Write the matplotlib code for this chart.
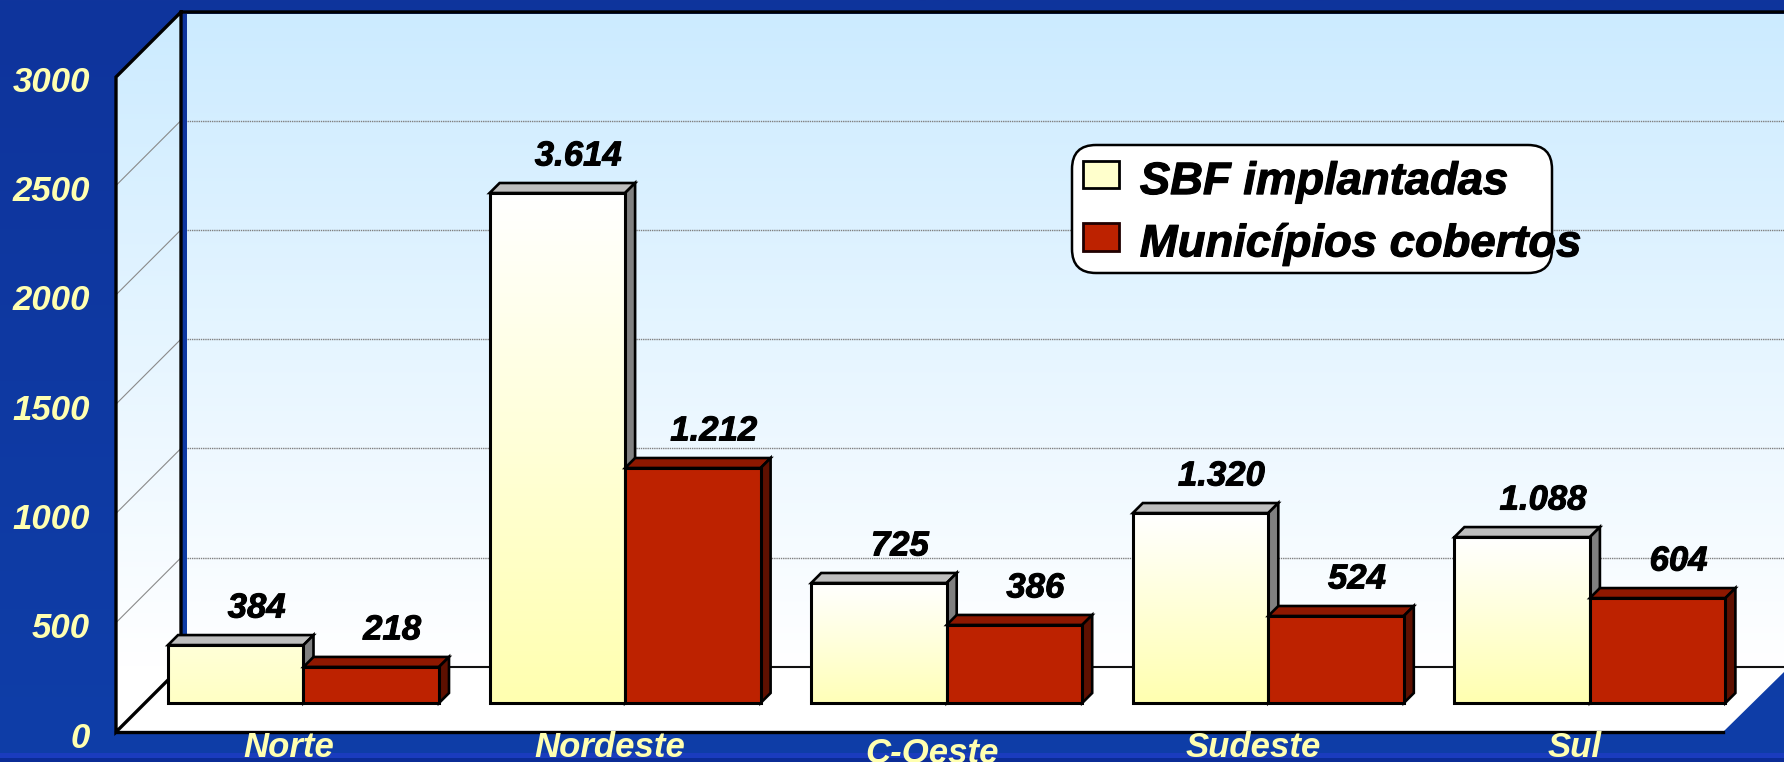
import numpy as np
import matplotlib
matplotlib.use('Agg')
import matplotlib.pyplot as plt
import matplotlib.patheffects as pe
from matplotlib.colors import LinearSegmentedColormap
from matplotlib.patches import FancyBboxPatch, Patch, Polygon
from matplotlib.transforms import IdentityTransform

plt.rcParams['font.family'] = ['Liberation Sans', 'DejaVu Sans']

# data
regioes = ['Norte', 'Nordeste', 'C-Oeste', 'Sudeste', 'Sul']
# bar heights (they do not follow the printed labels)
sbf = [265, 2333, 549, 869, 759]
municipios = [165, 1075, 357, 398, 480]
sbf_labels = ['384', '3.614', '725', '1.320', '1.088']
mun_labels = ['218', '1.212', '386', '524', '604']
yticks = [0, 500, 1000, 1500, 2000, 2500, 3000]
grid_vals = [500, 1000, 1500, 2000, 2500]
legend_names = ['SBF implantadas', 'Municípios cobertos']

# colours
YELLOW = '#FFFFB0'
RED, RED_TOP, RED_SIDE = '#BD2200', '#8E1800', '#5E1000'
GREY_TOP, GREY_SIDE = '#BEBEBE', '#808080'
SKY = '#CCEBFF'
NAVY = '#0F349C'

# scale of the picture
W, H = 1784, 762
UNIT = 109.3 / 500      # pixels per value
GROUP = 321.6           # pixels per category
X0 = 303.5              # pixel of category 0
BASE = 703              # pixel row of value 0 on the bars


def xd(px):
    return (px - X0) / GROUP


def yd(py):
    return (BASE - py) / UNIT


fig = plt.figure(figsize=(W / 100, H / 100), dpi=100)
ax = fig.add_axes([0, 0, 1, 1])
ax.set_xlim(xd(0), xd(W))
ax.set_ylim(yd(H), yd(0))
ax.axis('off')

full = [xd(0), xd(W), yd(H), yd(0)]

# background, with the lighter band near the bottom edge
bg = LinearSegmentedColormap.from_list('bg', [NAVY, '#0E3EA8'])
ax.imshow(np.linspace(0, 1, 256)[:, None], cmap=bg, extent=full, aspect='auto', zorder=0)
ax.fill_between([xd(0), xd(W)], yd(H), yd(753), color='#1A3CBE', lw=0, zorder=0.1)
ax.fill_between([xd(0), xd(W)], yd(H), yd(758), color='#0B2C96', lw=0, zorder=0.2)

# back wall and side wall
wall = LinearSegmentedColormap.from_list('wall', [SKY, '#FFFFFF'])
grad = np.linspace(0, 1, 256)[:, None]
ax.imshow(grad, cmap=wall, extent=[xd(187), xd(W), yd(667), yd(14)], aspect='auto', zorder=1)
side_grad = np.clip(np.linspace(0, (732 - 14) / (667 - 14), 256), 0, 1)[:, None]
side_im = ax.imshow(side_grad, cmap=wall, vmin=0, vmax=1, extent=[xd(116), xd(181), yd(732), yd(14)],
                    aspect='auto', zorder=1)
side = Polygon([(xd(116), yd(77)), (xd(181), yd(12)), (xd(181), yd(667)), (xd(116), yd(732))],
               closed=True, fc='none', ec='none', zorder=1)
ax.add_patch(side)
side_im.set_clip_path(side)

# floor
ax.add_patch(Polygon([(xd(116), yd(732)), (xd(181), yd(667)), (xd(W), yd(667)), (xd(W), yd(672)), (xd(1723), yd(732))],
                     closed=True, fc='white', ec='none', zorder=1.2))

# gridlines, back wall and side wall
back_off = (BASE - 667) / UNIT
front_off = (BASE - 732) / UNIT
for v in grid_vals:
    ax.plot([xd(187), xd(W)], [v + back_off] * 2, color='#808080', lw=1, ls=(0, (1, 0.6)), zorder=1.5)
    ax.plot([xd(116), xd(181)], [v + front_off, v + back_off], color='#8A8A8A', lw=0.8, zorder=1.5)

# frame
ax.plot([xd(W), xd(181), xd(116), xd(116), xd(181), xd(181)],
        [yd(12), yd(12), yd(77), yd(732), yd(667), yd(12)],
        color='black', lw=2.4, solid_joinstyle='miter', zorder=2)
ax.plot([xd(116), xd(1723)], [yd(732), yd(732)], color='black', lw=2.4, zorder=2)
ax.plot([xd(181), xd(W)], [yd(667), yd(667)], color='#111111', lw=1.5, zorder=2)

# bars
x = np.arange(len(regioes))
bw = 135.5 / GROUP
dx = 10 / GROUP
dy = 10 / UNIT
cream = LinearSegmentedColormap.from_list('cream', ['#FFFFFF', YELLOW])
z = 3
for i in x:
    for vals, offs, top_c, side_c, is_sbf in [(sbf, -bw, GREY_TOP, GREY_SIDE, True),
                                              (municipios, 0, RED_TOP, RED_SIDE, False)]:
        v = vals[i]
        left = i + offs
        right = left + bw
        ax.fill([left, left + dx, right + dx, right], [v, v + dy, v + dy, v],
                fc=top_c, ec='black', lw=1.9, zorder=z)
        ax.fill([right, right + dx, right + dx, right], [0, dy, v + dy, v],
                fc=side_c, ec='black', lw=1.9, zorder=z)
        if is_sbf:
            bar = ax.bar(left, v, bw, align='edge', fc='none', ec='black', lw=2.2, zorder=z + 0.2)[0]
            # short bars stay nearly flat cream, tall ones fade up to white
            h = v * UNIT
            start = 0.5 if h < 100 else 0
            stop = min(1, 0.6 + h / 400)
            im = ax.imshow(np.linspace(start, stop, 128)[:, None], cmap=cream, vmin=0, vmax=1,
                           extent=[left, right, 0, v], aspect='auto', zorder=z + 0.1)
            im.set_clip_path(bar)
        else:
            ax.bar(left, v, bw, align='edge', fc=RED, ec='black', lw=2.2, zorder=z + 0.2)
        z += 1

ax.set_xlim(xd(0), xd(W))
ax.set_ylim(yd(H), yd(0))

# value labels
font = dict(style='italic', weight='bold', fontsize=25)
heavy = [pe.withStroke(linewidth=0.7, foreground='black')]
lab_dx = 21 / GROUP
lab_dy = 37 / UNIT
for i in x:
    t = ax.text(i - bw / 2 + lab_dx, sbf[i] + lab_dy, sbf_labels[i], ha='center', va='center',
                color='black', zorder=20, **font)
    t.set_path_effects(heavy)
    t = ax.text(i + bw / 2 + lab_dx, municipios[i] + lab_dy, mun_labels[i], ha='center', va='center',
                color='black', zorder=20, **font)
    t.set_path_effects(heavy)

# axis labels
tick_off = (BASE - 738) / UNIT
for v in yticks:
    ax.text(xd(90), v + tick_off, str(v), ha='right', va='center', color=YELLOW, zorder=20, **font)
cat_rows = [747.5, 747.5, 753.5, 747.5, 747.5]
for i, name in enumerate(regioes):
    ax.text(i - 15 / GROUP, yd(cat_rows[i]), name, ha='center', va='center', color=YELLOW, zorder=20, **font)

# legend: rounded box in pixels, entries in a frameless legend on top
box = FancyBboxPatch((1072, H - 273), 480, 128, boxstyle='round,pad=0,rounding_size=24',
                     fc='white', ec='black', lw=1.8, transform=IdentityTransform(), zorder=29)
ax.add_patch(box)
handles = [Patch(fc='#FFFFCC', ec='black', lw=2), Patch(fc=RED, ec='#200000', lw=2)]
leg = ax.legend(handles, legend_names, loc='upper left', bbox_to_anchor=(1074 / W, 1 - 153 / H),
                bbox_transform=fig.transFigure, borderaxespad=0, borderpad=0.2,
                handlelength=0.78, handleheight=0.56, handletextpad=0.47, labelspacing=0.47,
                prop=dict(family='Liberation Sans', style='italic', weight='bold', size=32.7),
                frameon=False)
leg.set_zorder(30)
for p in leg.get_patches():
    p.set_y(p.get_y() + 2.5)
for t in leg.get_texts():
    t.set_path_effects([pe.withStroke(linewidth=0.8, foreground='black')])

fig.savefig('out.png', dpi=100)
